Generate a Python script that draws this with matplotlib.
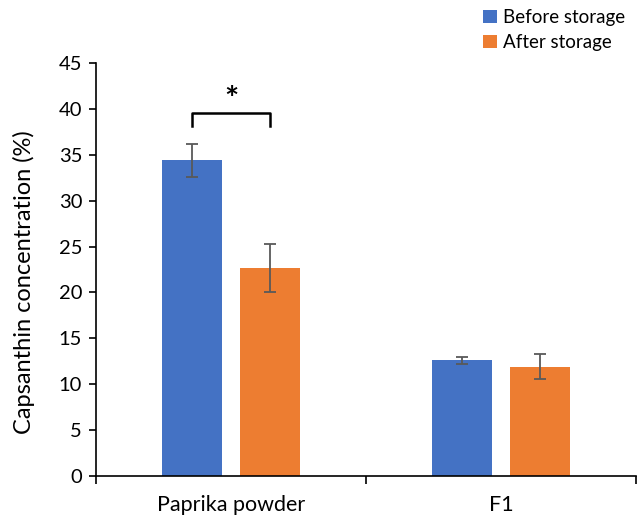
import matplotlib
matplotlib.use("Agg")
import matplotlib.pyplot as plt
import numpy as np

categories = ["Paprika powder", "F1"]
series_names = ["Before storage", "After storage"]
before_vals = [34.4, 12.6]
after_vals = [22.7, 11.9]
before_err = [1.8, 0.4]
after_err = [2.6, 1.35]
colors = ["#4472C4", "#ED7D31"]
y_ticks = [0, 5, 10, 15, 20, 25, 30, 35, 40, 45]

plt.rcParams['font.family'] = ['Lato', 'DejaVu Sans']

fig = plt.figure(figsize=(6.41, 5.15), dpi=100)
ax = fig.add_axes([0.1498, 0.0757, 0.8424, 0.802])

x = np.arange(len(categories))
w = 0.222
off = 0.143
ekw = dict(ecolor="#595959", elinewidth=1.3, capsize=4.5, capthick=1.3)
ax.bar(x - off, before_vals, w, yerr=before_err, color=colors[0], label=series_names[0], error_kw=ekw)
ax.bar(x + off, after_vals, w, yerr=after_err, color=colors[1], label=series_names[1], error_kw=ekw)

# significance bracket
x1, x2 = 0 - off, 0 + off
yb, yt = 38.1, 39.6
ax.plot([x1, x1, x2, x2], [yb, yt, yt, yb], color="black", lw=1.8)
ax.text(0, 40.9, "*", ha="center", va="center", fontsize=24, fontweight="bold")

ax.set_xlim(-0.5, 1.5)
ax.set_ylim(0, 45)
ax.set_yticks(y_ticks)
ax.set_xticks([-0.5, 0.5, 1.5])
ax.set_xticklabels([])
ax.set_xticks(x, minor=True)
ax.set_xticklabels(categories, minor=True)
ax.tick_params(axis="x", which="minor", length=0, pad=14, labelsize=15.5, colors="black")
ax.tick_params(axis="x", which="major", length=6, width=1.2, direction="out")
ax.tick_params(axis="y", length=5, width=1.2, direction="out", labelsize=14.5, pad=5)
for s in ["top", "right"]:
    ax.spines[s].set_visible(False)
for s in ["left", "bottom"]:
    ax.spines[s].set_linewidth(1.2)
ax.set_ylabel("Capsanthin concentration (%)", fontsize=17)
ax.yaxis.set_label_coords(-0.113, 0.47)

fig.legend(loc="upper left", bbox_to_anchor=(474 / 641, 1.0), frameon=False, fontsize=13.5,
           handlelength=0.7, handleheight=0.7, handletextpad=0.35, labelspacing=0.4,
           borderaxespad=0.1)

fig.savefig("out.png", dpi=100)
